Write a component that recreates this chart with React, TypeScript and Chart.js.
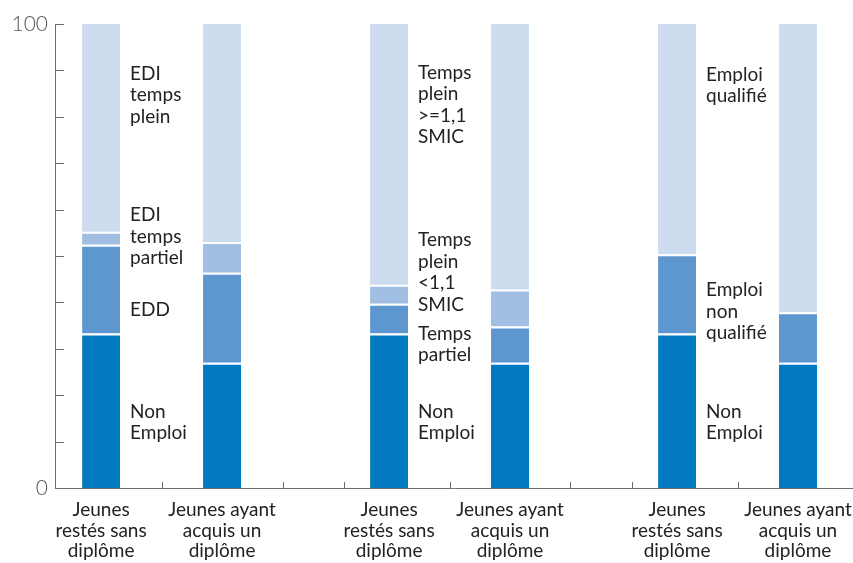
import React, { useEffect, useRef } from 'react';
import { Chart, registerables } from 'chart.js';

Chart.register(...registerables);

// ---- data ----
const groupIndex = [0, 1, 2];
const stackKeys = ['sans', 'avec'];
const barLabels = [
  ['Jeunes', 'restés sans', 'diplôme'],
  ['Jeunes ayant', 'acquis un', 'diplôme'],
];

// level 0: Non emploi
const nonEmploiSans = [33.3, 33.3, 33.3];
const nonEmploiAvec = [27.0, 27.0, 27.0];
// level 1: EDD / Temps partiel / Emploi non qualifié
const niveau1Sans = [19.1, 6.4, 17.1];
const niveau1Avec = [19.4, 7.8, 10.9];
// level 2: EDI temps partiel / Temps plein <1,1 SMIC / -
const niveau2Sans = [2.8, 4.1, null];
const niveau2Avec = [6.6, 8.0, null];
// level 3: EDI temps plein / Temps plein >=1,1 SMIC / Emploi qualifié
const niveau3Sans = [44.8, 56.2, 49.6];
const niveau3Avec = [47.0, 57.2, 62.1];

const yTickLabels = [0, 100];

const segmentLabels = [
  { group: 0, at: 84.7, lines: ['EDI', 'temps', 'plein'] },
  { group: 0, at: 54.3, lines: ['EDI', 'temps', 'partiel'] },
  { group: 0, at: 38.4, lines: ['EDD'] },
  { group: 0, at: 14.2, lines: ['Non', 'Emploi'] },
  { group: 1, at: 82.6, lines: ['Temps', 'plein', '>=1,1', 'SMIC'] },
  { group: 1, at: 46.5, lines: ['Temps', 'plein', '<1,1', 'SMIC'] },
  { group: 1, at: 31.0, lines: ['Temps', 'partiel'] },
  { group: 1, at: 14.2, lines: ['Non', 'Emploi'] },
  { group: 2, at: 86.9, lines: ['Emploi', 'qualifié'] },
  { group: 2, at: 38.1, lines: ['Emploi', 'non', 'qualifié'] },
  { group: 2, at: 14.2, lines: ['Non', 'Emploi'] },
];

const levelColors = ['#0079c1', '#5e97d0', '#a1bee3', '#cddcee'];
const axisColor = '#6e6e6e';
const textColor = '#222222';
const FONT = 'Lato, "Open Sans", sans-serif';

const levels = [
  [nonEmploiSans, nonEmploiAvec],
  [niveau1Sans, niveau1Avec],
  [niveau2Sans, niveau2Avec],
  [niveau3Sans, niveau3Avec],
];

const decorPlugin = {
  id: 'decor',
  afterDatasetsDraw(chart: any) {
    const { ctx, chartArea, scales } = chart;
    const xs = scales.x;
    const ys = scales.y;
    ctx.save();
    ctx.strokeStyle = axisColor;
    ctx.lineWidth = 1;
    // inner y ticks
    for (let v = 0; v <= 100; v += 10) {
      const py = Math.round(ys.getPixelForValue(v)) + 0.5;
      ctx.beginPath();
      ctx.moveTo(chartArea.left, py);
      ctx.lineTo(chartArea.left + 9, py);
      ctx.stroke();
    }
    // inner x ticks
    groupIndex.forEach((g) => {
      [g - 0.366, g, g + 0.42].forEach((v) => {
        if (v <= xs.min + 0.01 || v >= xs.max) return;
        const px = Math.round(xs.getPixelForValue(v)) + 0.5;
        ctx.beginPath();
        ctx.moveTo(px, chartArea.bottom);
        ctx.lineTo(px, chartArea.bottom - 6);
        ctx.stroke();
      });
    });

    // x labels under each bar
    ctx.fillStyle = textColor;
    ctx.font = `19px ${FONT}`;
    ctx.textAlign = 'center';
    ctx.textBaseline = 'alphabetic';
    stackKeys.forEach((_, s) => {
      const meta = chart.getDatasetMeta(s * levels.length);
      meta.data.forEach((el: any) => {
        barLabels[s].forEach((line, li) => {
          ctx.fillText(line, el.x, chartArea.bottom + 28 + li * 20.5);
        });
      });
    });

    // segment labels
    ctx.textAlign = 'left';
    const lh = 21.5;
    segmentLabels.forEach((lab) => {
      const el: any = chart.getDatasetMeta(0).data[lab.group];
      const left = el.x + el.width / 2 + 10;
      const cy = ys.getPixelForValue(lab.at);
      const n = lab.lines.length;
      lab.lines.forEach((line, li) => {
        ctx.fillText(line, left, cy - ((n - 1) / 2) * lh + li * lh + 6.5);
      });
    });
    ctx.restore();
  },
};

export default function App() {
  const ref = useRef<HTMLCanvasElement>(null);
  useEffect(() => {
    document.body.style.margin = '0';
    const datasets: any[] = [];
    stackKeys.forEach((stack, s) => {
      levels.forEach((lv, l) => {
        datasets.push({
          label: `${stack}-${l}`,
          stack,
          data: groupIndex.map((g) => ({ x: g, y: lv[s][g] })),
          backgroundColor: levelColors[l],
          borderColor: '#ffffff',
          borderWidth: l < levels.length - 1 ? { top: 2, bottom: 0, left: 0, right: 0 } : 0,
          borderSkipped: false,
          categoryPercentage: 0.84,
          barPercentage: 0.314,
        });
      });
    });
    const chart = new Chart(ref.current!, {
      type: 'bar',
      data: { datasets },
      plugins: [decorPlugin],
      options: {
        animation: false,
        responsive: true,
        maintainAspectRatio: false,
        events: [],
        layout: { padding: { top: 24, left: 0, right: 0, bottom: 0 } },
        plugins: { legend: { display: false }, tooltip: { enabled: false } },
        scales: {
          x: {
            type: 'linear',
            min: -0.37,
            max: 2.401,
            offset: false,
            grid: { display: false, drawTicks: false },
            border: { display: true, color: axisColor, width: 1 },
            ticks: { display: false },
            afterBuildTicks: (s: any) => { s.ticks = groupIndex.map((v) => ({ value: v })); },
            afterFit: (s: any) => { s.height = 75; },
          },
          y: {
            min: 0,
            max: 100,
            stacked: true,
            grid: { display: false, drawTicks: false },
            border: { display: true, color: axisColor, width: 1 },
            afterBuildTicks: (s: any) => { s.ticks = yTickLabels.map((v) => ({ value: v })); },
            ticks: {
              padding: 7,
              color: '#555',
              font: { family: FONT, size: 21, weight: 300 },
              callback: (v: any) => String(v),
            },
            afterFit: (s: any) => { s.width = 55; },
          },
        },
      },
    });
    return () => chart.destroy();
  }, []);
  return (
    <div style={{ position: 'absolute', left: 0, top: 0, width: 853, height: 563 }}>
      <canvas ref={ref} />
    </div>
  );
}
